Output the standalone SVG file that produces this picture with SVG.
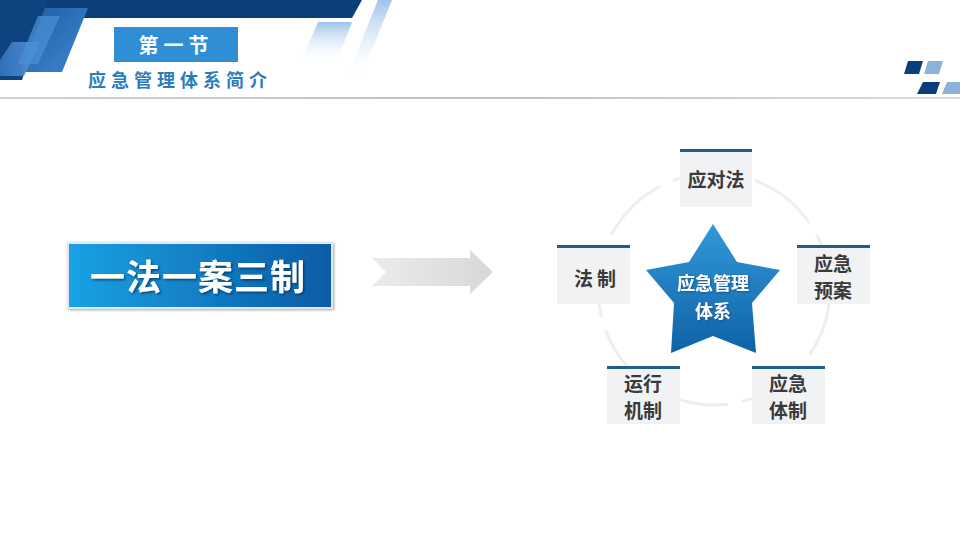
<svg xmlns="http://www.w3.org/2000/svg" width="960" height="540" viewBox="0 0 960 540">
<defs>
<style>
.cjk{font-family:"Noto Sans CJK SC","Noto Sans CJK JP",sans-serif;font-weight:bold;text-anchor:middle}
.box{fill:#f1f2f4}
.bar{fill:#1f5d8a}
.lbl{fill:#3a3a3a;font-size:19px}
.navy{fill:#0c3e79}
.lite{fill:#8db2d9}
</style>
<linearGradient id="gBox" x1="0" y1="0" x2="1" y2="0">
<stop offset="0" stop-color="#1aa2e4"/>
<stop offset="1" stop-color="#0a5ba5"/>
</linearGradient>
<linearGradient id="gStar" x1="0" y1="0" x2="0" y2="1">
<stop offset="0" stop-color="#3199d8"/>
<stop offset="1" stop-color="#0f62a6"/>
</linearGradient>
<linearGradient id="gArrow" x1="0" y1="0" x2="1" y2="0">
<stop offset="0" stop-color="#ebebeb"/>
<stop offset="1" stop-color="#d8d8d8"/>
</linearGradient>
<linearGradient id="gFade" x1="0" y1="0" x2="0" y2="1">
<stop offset="0" stop-color="#9ec3ea"/>
<stop offset="1" stop-color="#ffffff" stop-opacity="0"/>
</linearGradient>
<linearGradient id="gLeft1" x1="0" y1="0" x2="1" y2="1">
<stop offset="0" stop-color="#1d5da3"/>
<stop offset="1" stop-color="#3f86cf"/>
</linearGradient>
<linearGradient id="gLeft2" x1="0" y1="0" x2="1" y2="0">
<stop offset="0" stop-color="#2f6fb6"/>
<stop offset="1" stop-color="#5b9be0" stop-opacity="0.8"/>
</linearGradient>
<linearGradient id="gLine" x1="0" y1="0" x2="1" y2="0">
<stop offset="0" stop-color="#c9d3dd"/>
<stop offset="0.5" stop-color="#b9c3cc"/>
<stop offset="1" stop-color="#d5dde5"/>
</linearGradient>
<filter id="sh" x="-10%" y="-20%" width="120%" height="140%">
<feDropShadow dx="1" dy="1" stdDeviation="1.5" flood-color="#000" flood-opacity="0.35"/>
</filter>
<filter id="tsh" x="-10%" y="-20%" width="120%" height="140%">
<feDropShadow dx="1.5" dy="1.5" stdDeviation="1" flood-color="#062a55" flood-opacity="0.7"/>
</filter>
<filter id="ssh" x="-10%" y="-20%" width="120%" height="140%">
<feDropShadow dx="1" dy="1" stdDeviation="0.8" flood-color="#0a3d70" flood-opacity="0.6"/>
</filter>
</defs>
<rect width="960" height="540" fill="#ffffff"/>

<g id="header">
<polygon class="navy" points="0,0 362,0 352,18 0,18"/>
<polygon fill="#0f437f" points="0,0 48,0 22,80 0,80"/>
<polygon fill="url(#gLeft1)" points="45,8 88,8 62,72 20,72"/>
<polygon fill="url(#gLeft2)" points="12,42 40,42 24,76 0,76 0,60"/>
<polygon fill="#4a8fd6" opacity="0.75" points="38,16 60,16 38,64 18,64"/>
<polygon fill="url(#gFade)" points="318,22 352,22 336,64 300,64"/>
<polygon fill="url(#gFade)" points="378,0 392,0 360,80 346,80"/>
<rect x="114" y="27" width="124" height="35" fill="#2e8ed6"/>
<text class="cjk" x="176" y="53" font-size="20" fill="#ffffff" letter-spacing="5">第一节</text>
<text class="cjk" x="180" y="87" font-size="18" fill="#2a7dbd" letter-spacing="5">应急管理体系简介</text>
<rect x="0" y="97" width="960" height="2" fill="url(#gLine)"/>
<polygon class="navy" points="908,61 923,61 919,74 904,74"/>
<polygon class="lite" points="928,61 943,61 939,74 924,74"/>
<polygon class="navy" points="923,82 940,82 936,94 917,94"/>
<polygon class="lite" points="947,82 960,82 960,94 942,94"/>
</g>

<g id="main-box">
<rect x="68" y="243" width="264" height="65" fill="url(#gBox)" stroke="#dfe9f2" stroke-width="2" filter="url(#sh)"/>
<text class="cjk" x="198" y="290" font-size="35" fill="#ffffff" letter-spacing="1" filter="url(#tsh)">一法一案三制</text>
</g>

<g id="connectors">
<polygon fill="url(#gArrow)" points="372,258 470,258 470,250 493,272 470,294 470,286 372,286 386,272"/>
<circle cx="714" cy="289" r="116" fill="none" stroke="#eceef0" stroke-width="3" stroke-dasharray="70 14"/>
</g>

<g id="center-star">
<polygon fill="url(#gStar)" points="713,224 737,262 780,270 752,303 756,353 713,336 671,353 674,303 646,270 689,262"/>
<text class="cjk" x="713" y="290" font-size="18" fill="#ffffff" filter="url(#ssh)">应急管理</text>
<text class="cjk" x="713" y="318" font-size="18" fill="#ffffff" filter="url(#ssh)">体系</text>
</g>

<g id="node-yingduifa">
<rect class="box" x="680" y="150" width="72" height="57"/>
<rect class="bar" x="680" y="149" width="72" height="3"/>
<text class="cjk lbl" x="716" y="187">应对法</text>
</g>
<g id="node-fazhi">
<rect class="box" x="557" y="246" width="73" height="58"/>
<rect class="bar" x="557" y="245" width="73" height="3"/>
<text class="cjk lbl" x="597" y="286" letter-spacing="4">法制</text>
</g>
<g id="node-yujian">
<rect class="box" x="797" y="246" width="73" height="58"/>
<rect class="bar" x="797" y="245" width="73" height="3"/>
<text class="cjk lbl" x="833" y="271">应急</text>
<text class="cjk lbl" x="833" y="298">预案</text>
</g>
<g id="node-yunxing">
<rect class="box" x="607" y="367" width="73" height="57"/>
<rect class="bar" x="607" y="366" width="73" height="3"/>
<text class="cjk lbl" x="643" y="391">运行</text>
<text class="cjk lbl" x="643" y="418">机制</text>
</g>
<g id="node-tizhi">
<rect class="box" x="752" y="367" width="73" height="57"/>
<rect class="bar" x="752" y="366" width="73" height="3"/>
<text class="cjk lbl" x="788" y="391">应急</text>
<text class="cjk lbl" x="788" y="418">体制</text>
</g>
</svg>
